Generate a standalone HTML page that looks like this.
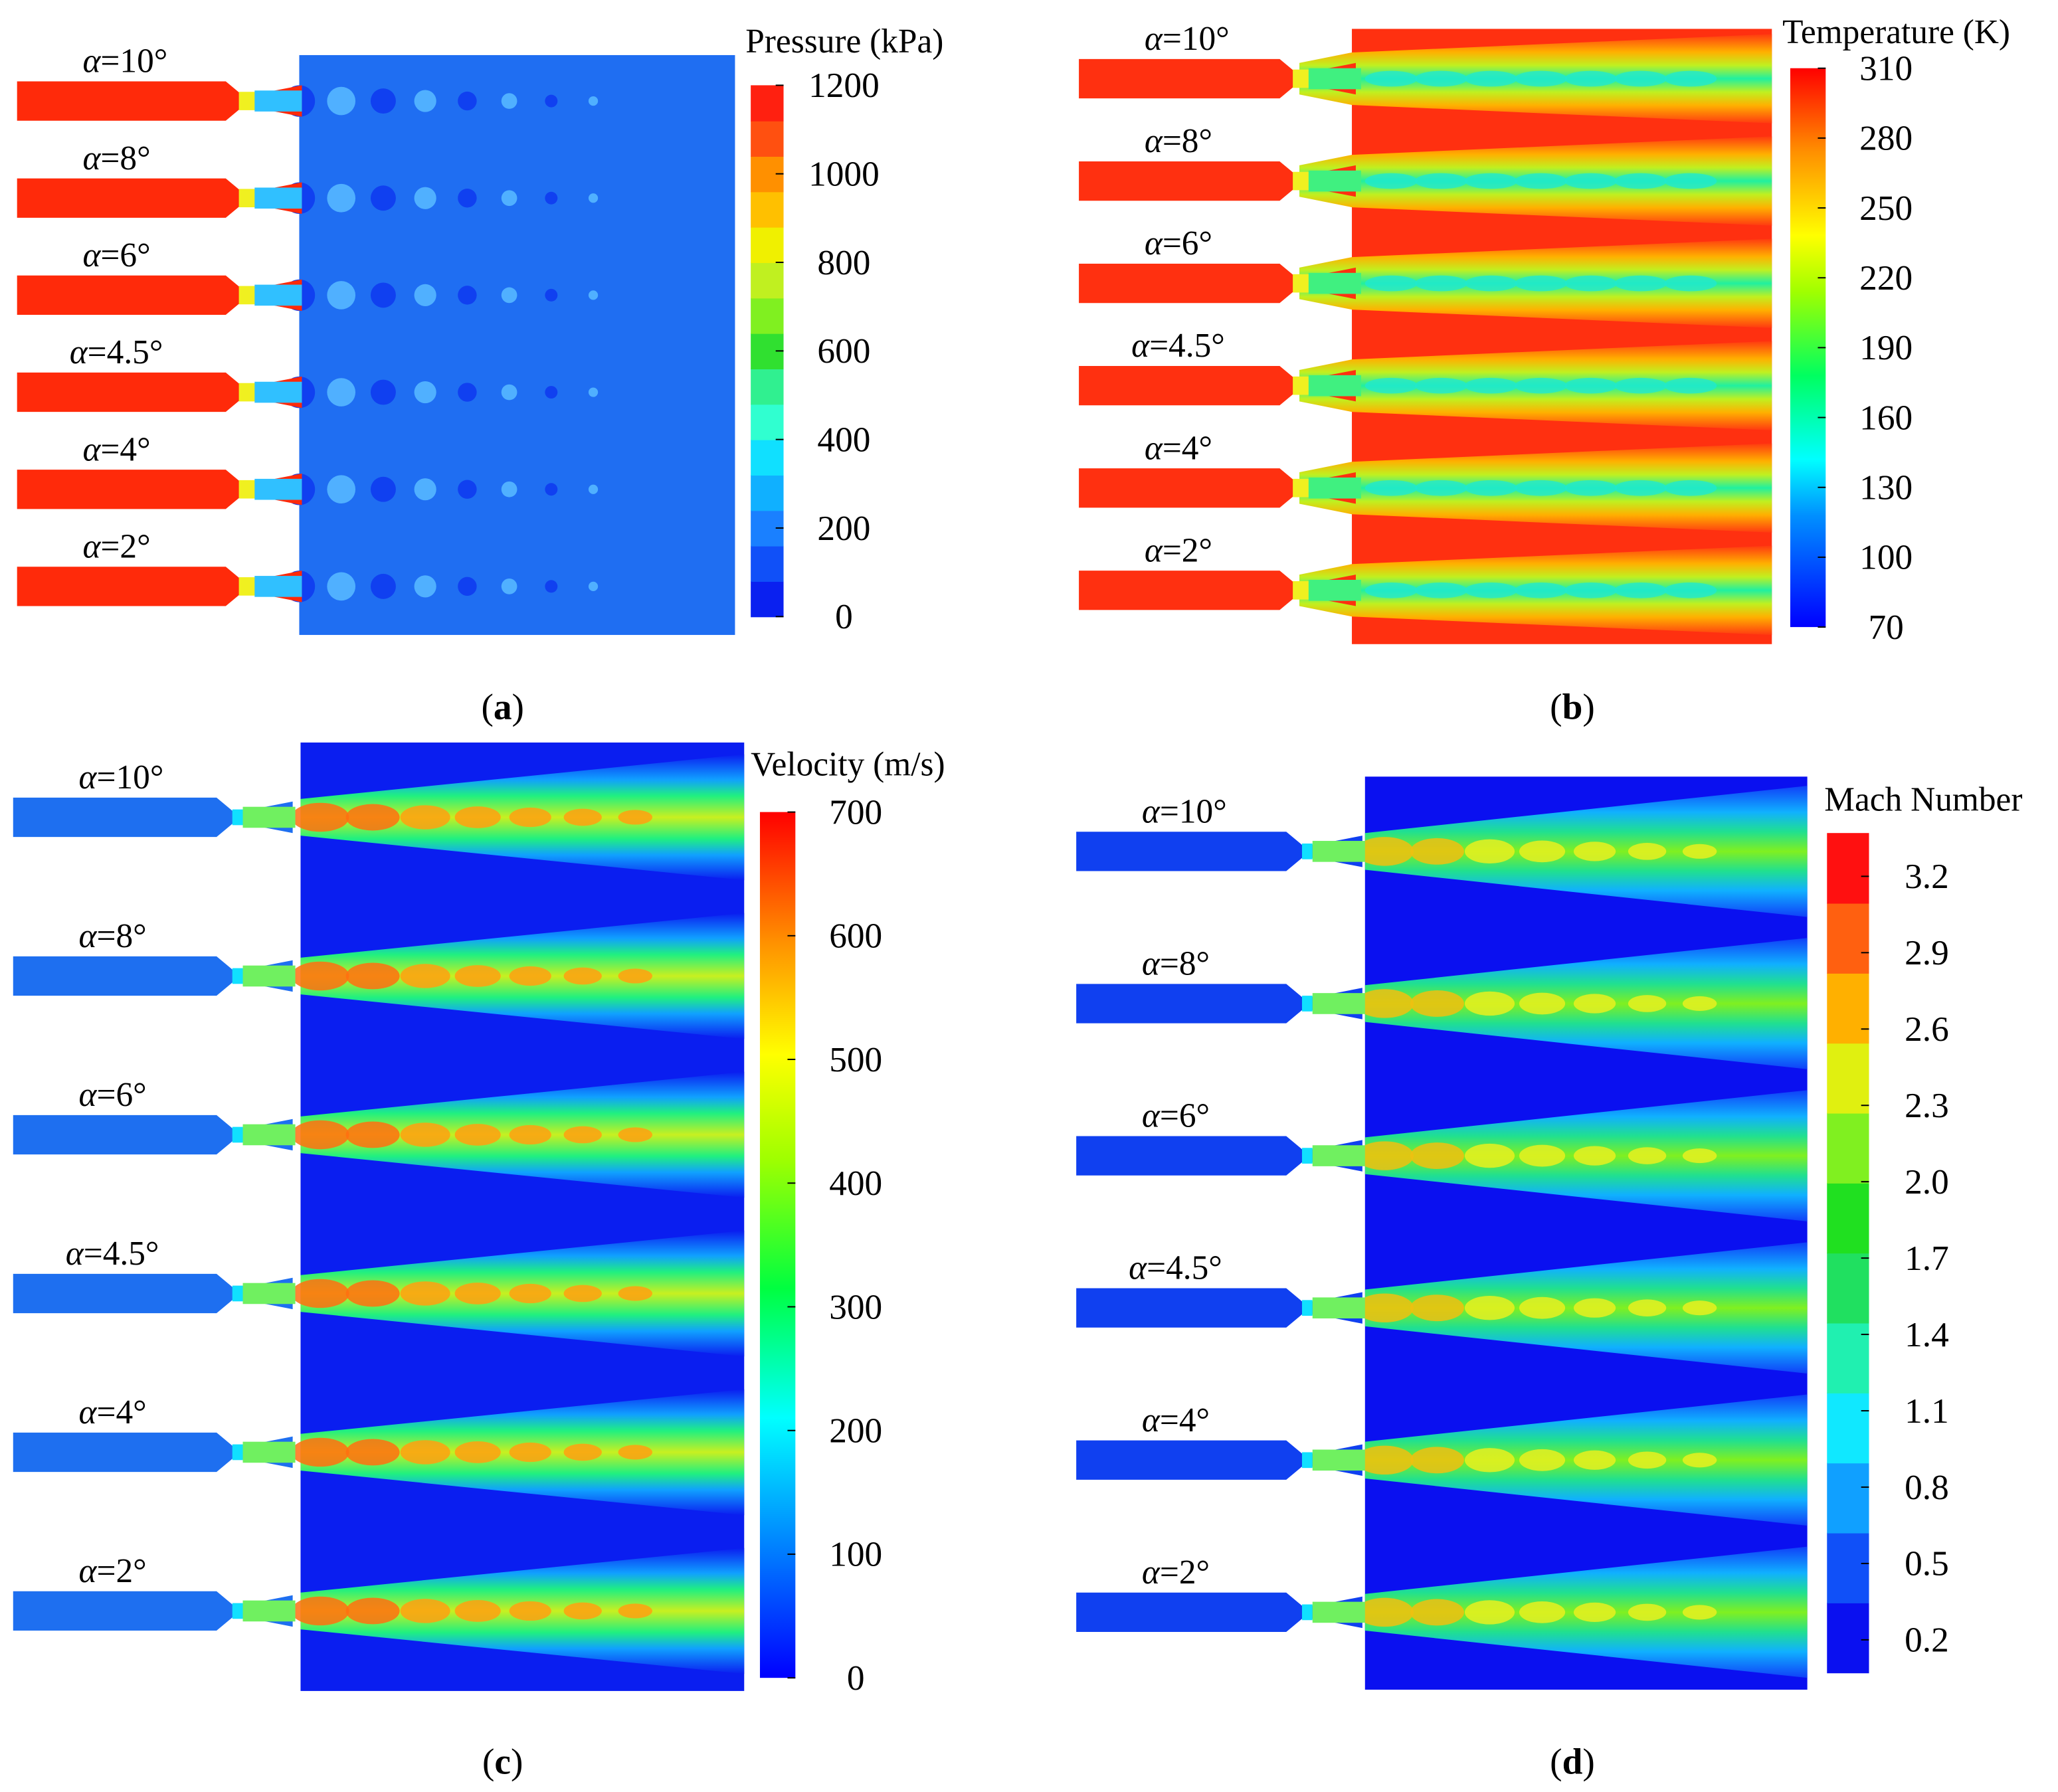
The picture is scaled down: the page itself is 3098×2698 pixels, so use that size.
<!DOCTYPE html>
<html><head><meta charset="utf-8"><style>
html,body{margin:0;padding:0;background:#fff;}
svg{display:block;}
text{font-family:"Liberation Serif","DejaVu Serif",serif;}
</style></head><body>
<svg id="fig" width="3098" height="2698" viewBox="0 0 1568 1366" preserveAspectRatio="none" xmlns="http://www.w3.org/2000/svg" font-family="Liberation Serif, serif">
<defs>
<linearGradient id="plumeC" x1="0" y1="0" x2="0" y2="1">
<stop offset="0" stop-color="#0a1ef0"/><stop offset="0.2" stop-color="#10a0ff"/><stop offset="0.33" stop-color="#20f080"/><stop offset="0.5" stop-color="#c8f020"/><stop offset="0.67" stop-color="#20f080"/><stop offset="0.8" stop-color="#10a0ff"/><stop offset="1" stop-color="#0a1ef0"/></linearGradient>
<linearGradient id="plumeD" x1="0" y1="0" x2="0" y2="1">
<stop offset="0" stop-color="#1040f8"/><stop offset="0.2" stop-color="#10b0ff"/><stop offset="0.35" stop-color="#20e090"/><stop offset="0.5" stop-color="#80f020"/><stop offset="0.65" stop-color="#20e090"/><stop offset="0.8" stop-color="#10b0ff"/><stop offset="1" stop-color="#1040f8"/></linearGradient>
<linearGradient id="plumeB" x1="0" y1="0" x2="0" y2="1">
<stop offset="0" stop-color="#ff3a10"/><stop offset="0.2" stop-color="#ffb000"/><stop offset="0.35" stop-color="#c0f020"/><stop offset="0.5" stop-color="#20f0a0"/><stop offset="0.65" stop-color="#c0f020"/><stop offset="0.8" stop-color="#ffb000"/><stop offset="1" stop-color="#ff3a10"/></linearGradient>
<linearGradient id="cbTemp" x1="0" y1="1" x2="0" y2="0">
<stop offset="0" stop-color="#0000ff"/><stop offset="0.2" stop-color="#0090ff"/><stop offset="0.3" stop-color="#00ffff"/><stop offset="0.45" stop-color="#00ff60"/><stop offset="0.6" stop-color="#a0ff00"/><stop offset="0.7" stop-color="#ffff00"/><stop offset="0.85" stop-color="#ff9000"/><stop offset="1" stop-color="#ff0000"/></linearGradient>
<linearGradient id="cbVel" x1="0" y1="1" x2="0" y2="0">
<stop offset="0" stop-color="#0000ff"/><stop offset="0.15" stop-color="#0080ff"/><stop offset="0.3" stop-color="#00ffff"/><stop offset="0.45" stop-color="#00ff40"/><stop offset="0.6" stop-color="#a0ff00"/><stop offset="0.72" stop-color="#ffff00"/><stop offset="0.85" stop-color="#ff9000"/><stop offset="1" stop-color="#ff0000"/></linearGradient>
</defs>
<g id="panels"></g>
</svg>
<script>
const NS='http://www.w3.org/2000/svg';
const angles=['10','8','6','4.5','4','2'];
const pressTicks=[1200,1000,800,600,400,200,0];
const tempTicks=[310,280,250,220,190,160,130,100,70];
const velTicks=[700,600,500,400,300,200,100,0];
const machTicks=['3.2','2.9','2.6','2.3','2.0','1.7','1.4','1.1','0.8','0.5','0.2'];
const pressSteps=['#0a20f0','#1050f8','#1a80ff','#10b0ff','#10e0ff','#30ffd0','#30f090','#30e030','#80f020','#c0f020','#f0f000','#ffc000','#ff9000','#ff5010','#ff2010'];
const machSteps=['#0a10f0','#1050f8','#10a0ff','#10e8ff','#20f0b0','#20e060','#20e020','#80f020','#e0f010','#ffb000','#ff6010','#ff1010'];
const FONT='"Liberation Serif","DejaVu Serif",serif';
const root=document.getElementById('panels');
function el(tag,attrs,parent){const e=document.createElementNS(NS,tag);for(const k in attrs)e.setAttribute(k,attrs[k]);(parent||root).appendChild(e);return e;}
function txt(s,x,y,size,parent,anchor){const t=el('text',{x:x,y:y,'font-size':size,'text-anchor':anchor||'start',fill:'#000','font-family':FONT},parent);t.innerHTML=s;return t;}

const P=[
 {k:'a',dom:[228,42,560,484],row0:77,step:74,nx:[13,172],noz:'#ff2a0a',bg:'#1f6ef2',cb:[572,65,597,470],ticks:pressTicks,title:'Pressure (kPa)',tx:568,ty:40,lab:[383,548]},
 {k:'b',dom:[1030,22,1350,491],row0:60,step:78,nx:[822,975],noz:'#ff3010',bg:'#ff3010',cb:[1364,52,1391,478],ticks:tempTicks,title:'Temperature (K)',tx:1358,ty:33,lab:[1198,548]},
 {k:'c',dom:[229,566,567,1289],row0:623,step:121,nx:[10,165],noz:'#1e6ff0',bg:'#0a1ef0',cb:[579,619,606,1279],ticks:velTicks,title:'Velocity (m/s)',tx:572,ty:591,lab:[383,1352]},
 {k:'d',dom:[1040,592,1377,1288],row0:649,step:116,nx:[820,980],noz:'#1040f0',bg:'#0a10f0',cb:[1392,635,1424,1275],ticks:machTicks,title:'Mach Number',tx:1390,ty:618,lab:[1198,1352]}
];
P.forEach(p=>{
 const g=el('g',{});
 
 
 const [x0,y0,x1,y1]=p.dom;
 const bg=el('rect',{x:x0,y:y0,width:x1-x0,height:y1-y0,fill:p.bg},g);
 
 
 angles.forEach((a,i)=>{
  const yc=p.row0+i*p.step;
  const jg=el('g',{},g);
  
  
  if(p.k==='c'||p.k==='d'){
   const hw=p.k==='c'?48:50;
   el('polygon',{points:`${x0},${yc-14} ${x1},${yc-hw} ${x1},${yc+hw} ${x0},${yc+14}`,fill:p.k==='c'?'url(#plumeC)':'url(#plumeD)'},jg);
   const core=p.k==='c'?'#ffa010':'#e8f020';
   for(let j=0;j<7;j++){const cx=x0+15+j*40;const rx=22-j*1.5,ry=11-j*0.9;
    el('ellipse',{cx:cx,cy:yc,rx:rx,ry:ry,fill:j<2?(p.k==='c'?'#ff7010':'#f0c010'):core,opacity:0.85},jg);}
  } else if(p.k==='b'){
   el('polygon',{points:`${x0-40},${yc-12} ${x0},${yc-20} ${x1},${yc-34} ${x1},${yc+34} ${x0},${yc+20} ${x0-40},${yc+12}`,fill:'url(#plumeB)'},jg);
   for(let j=0;j<7;j++){const cx=x0+30+j*38;el('ellipse',{cx:cx,cy:yc,rx:20,ry:6,fill:'#20e8d0',opacity:0.8},jg);}
  } else {
   for(let j=0;j<8;j++){const cx=x0+j*32;const r=Math.max(3,12-j*1.2);
    el('ellipse',{cx:cx,cy:yc,rx:r,ry:r,fill:j%2?'#50b0ff':'#1040f0'},jg);}
  }
  const [n0,n1]=p.nx;
  const nz=el('polygon',{points:`${n0},${yc-15} ${n1},${yc-15} ${n1+12},${yc-5} ${n1+22},${yc-5} ${n1+58},${yc-12} ${n1+58},${yc+12} ${n1+22},${yc+5} ${n1+12},${yc+5} ${n1},${yc+15} ${n0},${yc+15}`,fill:p.noz},jg);
  
  
  if(p.k==='a'||p.k==='b'){el('rect',{x:n1+10,y:yc-7,width:14,height:14,fill:'#f0f020'},jg);el('rect',{x:n1+22,y:yc-8,width:p.k==='a'?36:40,height:16,fill:p.k==='a'?'#30c0ff':'#40f080'},jg);}
  else {el('rect',{x:n1+12,y:yc-6,width:8,height:12,fill:'#10e0ff'},jg);el('rect',{x:n1+20,y:yc-8,width:40,height:16,fill:'#70f060'},jg);}
  const lt=txt('<tspan font-style="italic">α</tspan>=10°'.replace('10',a),p.nx[0]+(a.length>2?40:50),yc-22,26,jg);
  
  
 });
 const [cx0,cy0,cx1,cy1]=p.cb;
 const cb=el('g',{},g);
 
 
 if(p.k==='a'||p.k==='d'){
  const steps=p.k==='a'?pressSteps:machSteps;const h=(cy1-cy0)/steps.length;
  steps.forEach((c,j)=>el('rect',{x:cx0,y:cy1-(j+1)*h,width:cx1-cx0,height:h+0.5,fill:c},cb));
 } else el('rect',{x:cx0,y:cy0,width:cx1-cx0,height:cy1-cy0,fill:p.k==='b'?'url(#cbTemp)':'url(#cbVel)'},cb);
 const n=p.ticks.length;
 const tStart=p.k==='d'?cy0+33:cy0, tEnd=p.k==='d'?cy1-25:cy1;
 p.ticks.forEach((t,j)=>{const y=tStart+(tEnd-tStart)*j/(n-1);
  el('line',{x1:cx1-6,x2:cx1,y1:y,y2:y,stroke:'#000','stroke-width':1},cb);
  txt(String(t),cx1+(p.k==='d'?44:46),y+9,27,cb,'middle');});
 const tt=txt(p.title,p.tx,p.ty,26,g);
 
 
 const pl=txt('(<tspan font-weight="bold">'+p.k+'</tspan>)',p.lab[0],p.lab[1],28,g,'middle');
 
 
});
</script>
</body></html>
